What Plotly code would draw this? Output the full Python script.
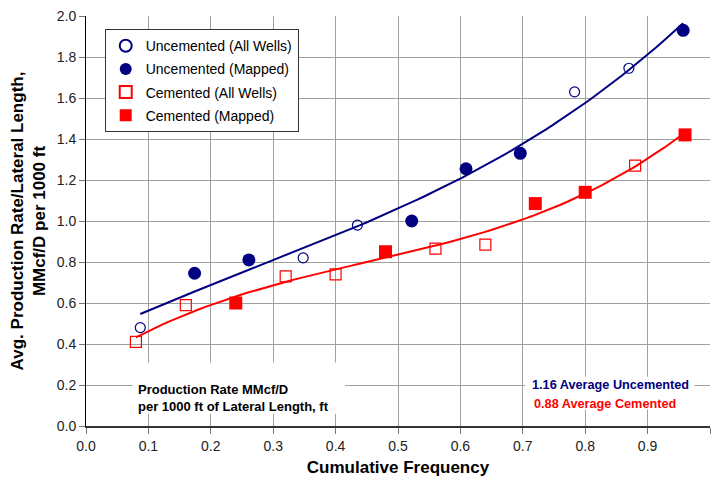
import numpy as np
import plotly.graph_objects as go

# Cumulative frequency positions and rates (MMcf/D per 1000 ft)
unc_all_x = [0.087, 0.348, 0.435, 0.783, 0.870]
unc_all_y = [0.48, 0.82, 0.98, 1.63, 1.745]
unc_map_x = [0.174, 0.261, 0.522, 0.609, 0.696, 0.957]
unc_map_y = [0.745, 0.81, 1.00, 1.255, 1.33, 1.93]

cem_all_x = [0.08, 0.16, 0.32, 0.40, 0.56, 0.64, 0.88]
cem_all_y = [0.41, 0.59, 0.73, 0.74, 0.865, 0.885, 1.27]
cem_map_x = [0.24, 0.48, 0.72, 0.80, 0.96]
cem_map_y = [0.60, 0.85, 1.085, 1.14, 1.42]

x_ticks = [round(0.1 * i, 1) for i in range(11)]
y_ticks = [round(0.2 * i, 1) for i in range(11)]

NAVY = "#000080"
RED = "#FF0000"
FONT = "Arial, Liberation Sans, sans-serif"


def trend(xs, ys, deg=3, n=80):
    order = np.argsort(xs)
    xs = np.asarray(xs)[order]
    ys = np.asarray(ys)[order]
    c = np.polyfit(xs, ys, deg)
    xx = np.linspace(xs.min(), xs.max(), n)
    return xx, np.polyval(c, xx)


unc_tx, unc_ty = trend(unc_all_x + unc_map_x, unc_all_y + unc_map_y)
cem_tx, cem_ty = trend(cem_all_x + cem_map_x, cem_all_y + cem_map_y)

fig = go.Figure()
fig.add_trace(go.Scatter(x=unc_tx, y=unc_ty, mode="lines",
                         line=dict(color=NAVY, width=2), showlegend=False, hoverinfo="skip"))
fig.add_trace(go.Scatter(x=cem_tx, y=cem_ty, mode="lines",
                         line=dict(color=RED, width=2), showlegend=False, hoverinfo="skip"))

fig.add_trace(go.Scatter(x=unc_all_x, y=unc_all_y, mode="markers", name="Uncemented (All Wells)",
                         legendgroup="a",
                         marker=dict(symbol="circle-open", size=10, color=NAVY, line=dict(width=1.2))))
fig.add_trace(go.Scatter(x=unc_map_x, y=unc_map_y, mode="markers", name="Uncemented (Mapped)",
                         legendgroup="b",
                         marker=dict(symbol="circle", size=13, color=NAVY)))
fig.add_trace(go.Scatter(x=cem_all_x, y=cem_all_y, mode="markers", name="Cemented (All Wells)",
                         legendgroup="c",
                         marker=dict(symbol="square-open", size=11, color=RED, line=dict(width=1.2))))
fig.add_trace(go.Scatter(x=cem_map_x, y=cem_map_y, mode="markers", name="Cemented (Mapped)",
                         legendgroup="d",
                         marker=dict(symbol="square", size=13, color=RED)))

axis_common = dict(
    showgrid=True, gridcolor="#a0a0a0", gridwidth=1,
    ticks="outside", ticklen=6, tickcolor="#777777",
    tickfont=dict(family=FONT, size=14, color="#222222"),
    zeroline=False, showline=True,
)

fig.update_xaxes(range=[0, 1.0], tickvals=x_ticks, tickformat=".1f",
                 linecolor="#333333", linewidth=1.5,
                 title=dict(text="<b>Cumulative Frequency</b>",
                            font=dict(family=FONT, size=17, color="#000000"), standoff=9),
                 **axis_common)
fig.update_yaxes(range=[0, 2.0], tickvals=y_ticks, tickformat=".1f",
                 linecolor="#000000", linewidth=1,
                 title=dict(text="<b>Avg. Production Rate/Lateral Length,<br>MMcf/D per 1000 ft</b>",
                            font=dict(family=FONT, size=17, color="#000000"), standoff=6),
                 **axis_common)

# white text boxes sitting over the grid, under the data
fig.add_shape(type="rect", xref="x", yref="y", x0=0.075, x1=0.415, y0=0.06, y1=0.31,
              fillcolor="#ffffff", line=dict(width=0), layer="between")
fig.add_shape(type="rect", xref="x", yref="y", x0=0.704, x1=0.975, y0=0.08, y1=0.24,
              fillcolor="#ffffff", line=dict(width=0), layer="between")

label_font = dict(family=FONT, size=13, color="#000000")
fig.add_annotation(xref="x", yref="y", x=0.080, y=0.178, xanchor="left", yanchor="middle",
                   showarrow=False, text="<b>Production Rate MMcf/D</b>", font=label_font)
fig.add_annotation(xref="x", yref="y", x=0.080, y=0.095, xanchor="left", yanchor="middle",
                   showarrow=False, text="<b>per 1000 ft of Lateral Length, ft</b>", font=label_font)
fig.add_annotation(xref="x", yref="y", x=0.711, y=0.202, xanchor="left", yanchor="middle",
                   showarrow=False, text="<b>1.16 Average Uncemented</b>",
                   font=dict(family=FONT, size=12.7, color=NAVY))
fig.add_annotation(xref="x", yref="y", x=0.715, y=0.108, xanchor="left", yanchor="middle",
                   showarrow=False, text="<b>0.88 Average Cemented</b>",
                   font=dict(family=FONT, size=12.7, color=RED))

fig.update_layout(
    width=718, height=482,
    margin=dict(l=86, r=8, t=16, b=56),
    paper_bgcolor="#ffffff", plot_bgcolor="#ffffff",
    font=dict(family=FONT),
    legend=dict(x=0.03, y=0.968, xanchor="left", yanchor="top",
                bgcolor="#ffffff", bordercolor="#333333", borderwidth=1,
                font=dict(family=FONT, size=14, color="#000000"),
                tracegroupgap=2, itemsizing="constant"),
)

fig.write_html("out.html")
